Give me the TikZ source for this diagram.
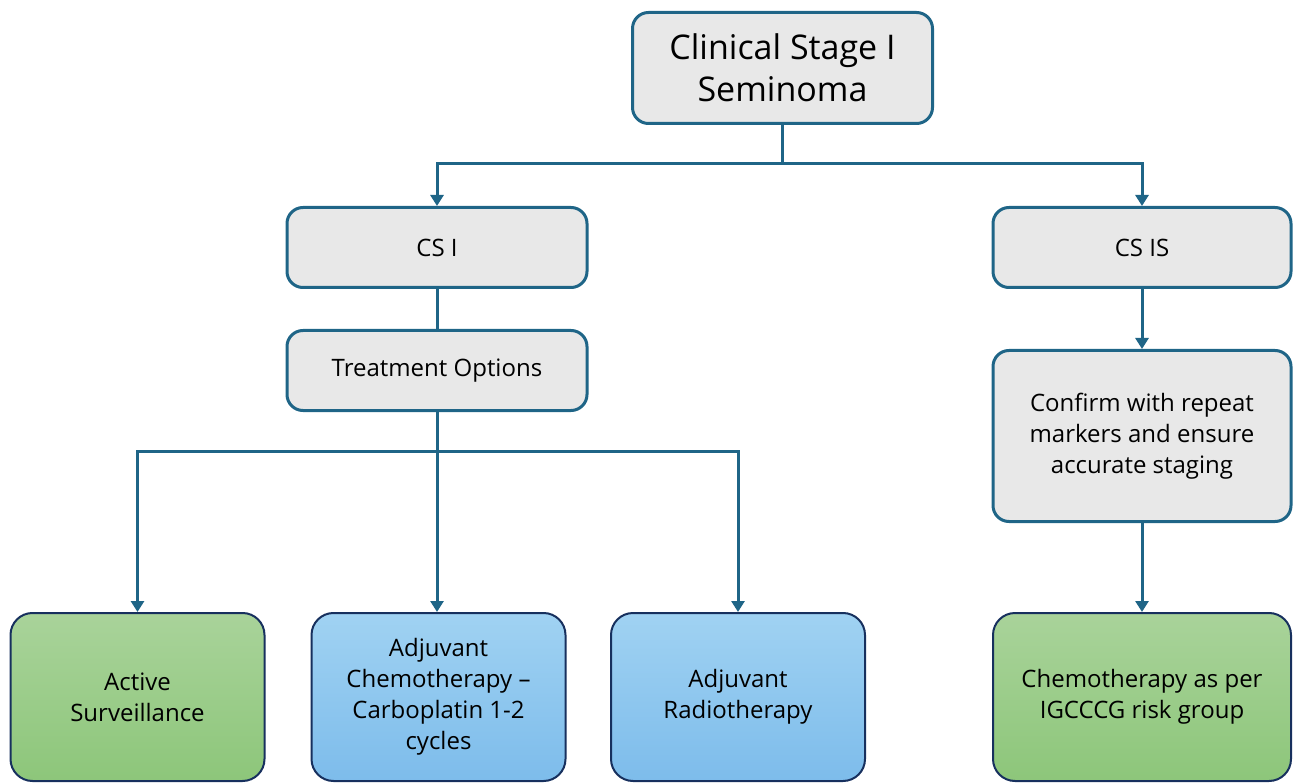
\documentclass[tikz,border=0pt]{standalone}
\usepackage{fontspec}
\setmainfont{Open Sans}
\usetikzlibrary{arrows.meta}
\definecolor{linec}{HTML}{1F6587}
\definecolor{boxfill}{HTML}{E8E8E8}
\definecolor{navy}{HTML}{17305E}
\definecolor{gtop}{HTML}{A9D39A}
\definecolor{gbot}{HTML}{8DC67A}
\definecolor{btop}{HTML}{A0D2F2}
\definecolor{bbot}{HTML}{7DBCEB}
\begin{document}
\begin{tikzpicture}[x=1pt,y=-1pt,
  txt/.style={font=\fontsize{24}{31}\selectfont},
  graybox/.style={draw=linec, line width=3pt, fill=boxfill, rounded corners=16pt, align=center, inner sep=0pt, txt},
  greenbox/.style={draw=navy, line width=2pt, top color=gtop, bottom color=gbot, rounded corners=22pt, align=center, inner sep=0pt, txt},
  bluebox/.style={draw=navy, line width=2pt, top color=btop, bottom color=bbot, rounded corners=22pt, align=center, inner sep=0pt, txt},
  conn/.style={draw=linec, line width=3pt},
  arr/.style={conn, -{Triangle[length=11pt,width=13pt]}}]
\useasboundingbox (0,0) rectangle (1293,783);
\node[graybox, minimum width=300pt, minimum height=111pt, font=\fontsize{34}{42}\selectfont] (top) at (782.5,68) {Clinical Stage I\\Seminoma};
\node[graybox, minimum width=300pt, minimum height=80pt] (csi) at (437,247.5) {CS I};
\node[graybox, minimum width=300pt, minimum height=80pt] (treat) at (437,370.5) {Treatment Options};
\node[graybox, minimum width=298pt, minimum height=80pt] (csis) at (1142,247.5) {CS IS};
\node[graybox, minimum width=298pt, minimum height=171pt] (conf) at (1142,436) {Confirm with repeat\\markers and ensure\\accurate staging};
\node[greenbox, minimum width=254pt, minimum height=168pt] (act) at (137.5,697) {Active\\Surveillance};
\node[bluebox, minimum width=254pt, minimum height=168pt] (chemo) at (438.5,697) {Adjuvant\\Chemotherapy –\\Carboplatin 1-2\\cycles};
\node[bluebox, minimum width=254pt, minimum height=168pt] (radio) at (738,697) {Adjuvant\\Radiotherapy};
\node[greenbox, minimum width=298pt, minimum height=168pt] (igc) at (1142,697) {Chemotherapy as per\\IGCCCG risk group};
\coordinate (j1) at ([yshift=-39pt]top.south);
\coordinate (j2) at ([yshift=-39pt]treat.south);
\draw[conn] (top.south) -- (j1);
\draw[arr] (j1) -| (csi.north);
\draw[arr] (j1) -| (csis.north);
\draw[conn] (csi.south) -- (treat.north);
\draw[conn] (treat.south) -- (j2);
\draw[arr] (j2) -| (act.north);
\draw[arr] (j2) -- (chemo.north -| j2);
\draw[arr] (j2) -| (radio.north);
\draw[arr] (csis.south) -- (conf.north);
\draw[arr] (conf.south) -- (igc.north);
\end{tikzpicture}
\end{document}
